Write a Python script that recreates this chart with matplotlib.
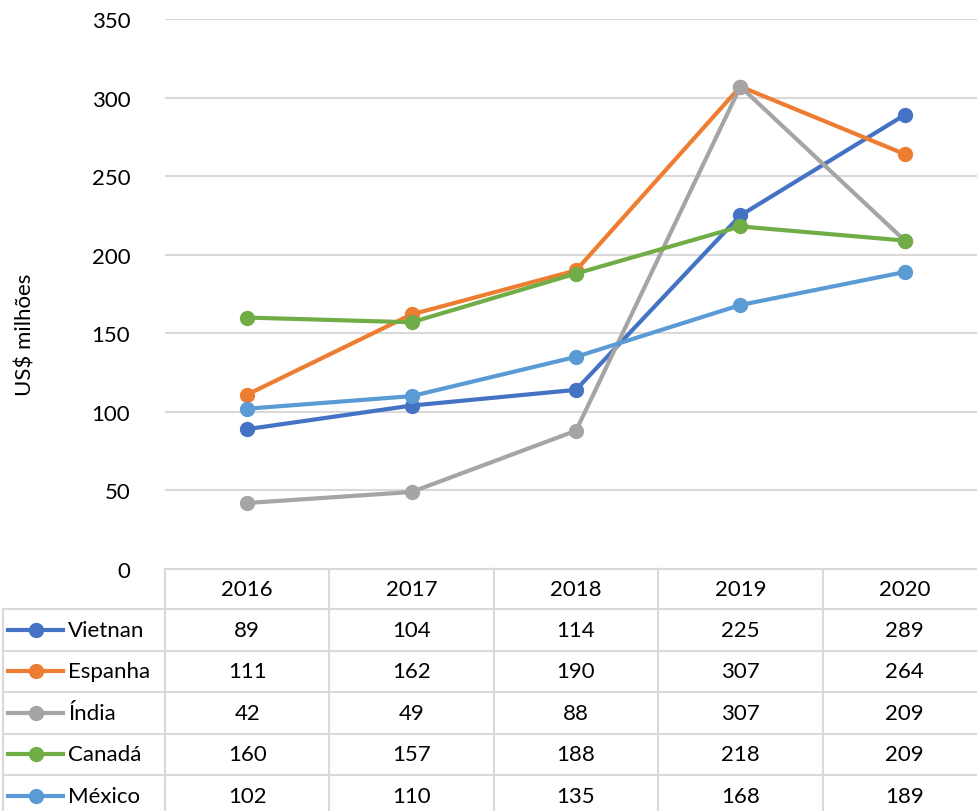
import matplotlib.pyplot as plt
from matplotlib.lines import Line2D

plt.rcParams['font.family'] = ['Lato', 'DejaVu Sans']

years = ['2016', '2017', '2018', '2019', '2020']
countries = ['Vietnan', 'Espanha', 'Índia', 'Canadá', 'México']
vietnan = [89, 104, 114, 225, 289]
espanha = [111, 162, 190, 307, 264]
india = [42, 49, 88, 307, 209]
canada = [160, 157, 188, 218, 209]
mexico = [102, 110, 135, 168, 189]
series = [vietnan, espanha, india, canada, mexico]
colors = ['#4472C4', '#ED7D31', '#A5A5A5', '#70AD47', '#5B9BD5']

W, H = 977, 812
fig = plt.figure(figsize=(W / 100, H / 100), dpi=100)

# pixel helpers
def box(left, top, right, bottom):
    return [left / W, 1 - bottom / H, (right - left) / W, (bottom - top) / H]

grid_col = '#D9D9D9'
fs = 16

# line chart
ax = fig.add_axes(box(165, 20, 987, 570))
x = range(len(years))
for vals, c in zip(series, colors):
    ax.plot(x, vals, color=c, lw=3, marker='o', ms=10, solid_capstyle='round')
ax.set_xlim(-0.5, 4.5)
ax.set_ylim(0, 350)
ax.set_yticks(range(0, 351, 50))
ax.set_xticks([])
ax.yaxis.grid(True, color=grid_col, lw=1.5)
ax.set_axisbelow(True)
for s in ax.spines.values():
    s.set_visible(False)
ax.tick_params(axis='y', length=0, pad=25, labelsize=fs)
fig.text(25 / W, 1 - 335 / H, 'US$ milhões', rotation=90, ha='center', va='center', fontsize=fs)

# data table underneath
tb = fig.add_axes(box(165, 570, 987, 812))
tb.set_xlim(-0.5, 4.5)
tb.set_ylim(812, 570)
tb.axis('off')
rows = [570, 610, 651.5, 693, 734.5, 776, 817.5]
leg_left = -0.5 - 162 / 164.5

kw = dict(color=grid_col, lw=1.5, clip_on=False)
tb.plot([-0.5, 4.5], [rows[0], rows[0]], **kw)
for r in rows[1:]:
    tb.plot([leg_left, 4.5], [r, r], **kw)
for i in range(len(years) + 1):
    tb.plot([i - 0.5, i - 0.5], [rows[0], rows[-1]], **kw)
tb.plot([leg_left, leg_left], [rows[1], rows[-1]], **kw)

for i, yr in enumerate(years):
    tb.text(i, (rows[0] + rows[1]) / 2, yr, ha='center', va='center', fontsize=fs)

for j, (name, vals, c) in enumerate(zip(countries, series, colors)):
    yc = (rows[j + 1] + rows[j + 2]) / 2
    for i, v in enumerate(vals):
        tb.text(i, yc, str(v), ha='center', va='center', fontsize=fs)
    k0 = leg_left + 5 / 164.5
    k1 = leg_left + 60 / 164.5
    tb.add_line(Line2D([k0, k1], [yc, yc], color=c, lw=3, clip_on=False))
    tb.plot([(k0 + k1) / 2], [yc], 'o', color=c, ms=10, clip_on=False)
    tb.text(leg_left + 65 / 164.5, yc, name, ha='left', va='center', fontsize=fs)

fig.savefig('out.png', dpi=100)
